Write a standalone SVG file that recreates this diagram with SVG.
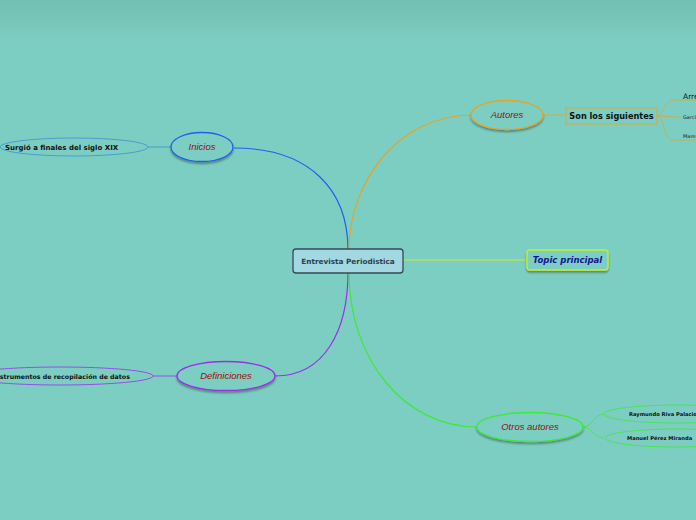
<svg xmlns="http://www.w3.org/2000/svg" width="696" height="520" viewBox="0 0 696 520">
<defs>
<linearGradient id="top" x1="0" y1="0" x2="0" y2="1">
<stop offset="0" stop-color="#73bfb3"/>
<stop offset="0.4" stop-color="#76c3b7"/>
<stop offset="1" stop-color="#7dcec2"/>
</linearGradient>
<filter id="sh" x="-20%" y="-30%" width="140%" height="170%">
<feDropShadow dx="0" dy="2" stdDeviation="1.2" flood-color="#000" flood-opacity="0.35"/>
</filter>
</defs>
<style>
text{font-family:"DejaVu Sans","Liberation Sans",sans-serif}
.main{font-size:9.5px;font-style:italic;fill:#9a0e0e;font-family:"Liberation Sans",Arial,sans-serif}
.sub{font-size:7px;font-weight:bold;fill:#111}
.tiny{font-size:5.2px;font-weight:bold;fill:#111}
.conn{fill:none}
</style>
<rect width="696" height="520" fill="#7dcec2"/>
<rect width="696" height="40" fill="url(#top)"/>

<g id="connectors">
<path class="conn" d="M348,250 C348,190 310,148 234,148" stroke="#1c62f0" stroke-width="1.2"/>
<path class="conn" d="M349,250 C349,180 400,115 472,115" stroke="#e8a322" stroke-width="1.2"/>
<path class="conn" d="M403,260 L527,260" stroke="#c8ee2a" stroke-width="1.2"/>
<path class="conn" d="M348,272 C348,330 325,376 275,376" stroke="#9c2ee8" stroke-width="1.2"/>
<path class="conn" d="M349,272 C349,360 405,427 477,427" stroke="#40e838" stroke-width="1.2"/>
<path class="conn" d="M171,147 L148,147" stroke="#3b8fd9" stroke-width="0.8"/>
<path class="conn" d="M177,376 L153,376" stroke="#9c2ee8" stroke-width="0.8"/>
<path class="conn" d="M543,115 L566,115" stroke="#e8a322" stroke-width="0.8"/>
<path class="conn" d="M657,116 C664,116 664,100 672,100 L696,100 M657,116 C664,116 666,117 681,117 M657,116 C664,116 664,140 672,140 L696,140" stroke="#d4a840" stroke-width="0.8"/>
<path class="conn" d="M583,427 C592,427 594,414 604,414 M583,427 C592,427 594,438 604,438" stroke="#40e838" stroke-width="0.8"/>
</g>

<g id="central">
<rect x="293" y="249" width="110" height="24" rx="3" fill="#a2d8e2" stroke="#36485a" stroke-width="1.3"/>
<text x="348" y="264" text-anchor="middle" font-size="7.3" font-weight="bold" fill="#2e3e50">Entrevista Periodistica</text>
</g>

<g id="inicios">
<ellipse cx="202" cy="147" rx="31" ry="14.5" fill="#7dcec2" stroke="#1c62f0" stroke-width="1.3" filter="url(#sh)"/>
<text class="main" x="202" y="150" text-anchor="middle">Inicios</text>
</g>
<g id="surgio">
<ellipse cx="74" cy="147" rx="74" ry="9" fill="none" stroke="#3b8fd9" stroke-width="0.8"/>
<text class="sub" x="5" y="150">Surgió a finales del siglo XIX</text>
</g>

<g id="definiciones">
<ellipse cx="226" cy="376" rx="49" ry="14.5" fill="#7dcec2" stroke="#9c2ee8" stroke-width="1.3" filter="url(#sh)"/>
<text class="main" x="226" y="379" text-anchor="middle">Definiciones</text>
</g>
<g id="instrumentos">
<ellipse cx="60" cy="376" rx="93" ry="9" fill="none" stroke="#9c2ee8" stroke-width="0.8"/>
<text x="-7" y="378.5" font-size="6.3" font-weight="bold" fill="#111">Instrumentos de recopilación de datos</text>
</g>

<g id="autores">
<ellipse cx="507" cy="115" rx="36" ry="14.5" fill="#7dcec2" stroke="#e8a322" stroke-width="1.3" filter="url(#sh)"/>
<text class="main" x="507" y="118" text-anchor="middle">Autores</text>
</g>
<g id="siguientes">
<rect x="566" y="108" width="91" height="16" fill="none" stroke="#d4a840" stroke-width="1"/>
<text x="611.5" y="119" text-anchor="middle" font-size="8.2" font-weight="bold" fill="#111">Son los siguientes</text>
</g>
<g id="arre">
<text x="683" y="99" font-size="7.5" fill="#111">Arreola</text>
</g>
<g id="garc">
<text x="683" y="119" font-size="5" fill="#222">García</text>
</g>
<g id="mare">
<text x="683" y="138" font-size="5" fill="#222">Marentes</text>
</g>

<g id="topic">
<rect x="527" y="250" width="81" height="20" rx="3" fill="#7dcec2" stroke="#c8ee2a" stroke-width="1.3" filter="url(#sh)"/>
<text x="567.5" y="263" text-anchor="middle" font-size="8.5" font-weight="bold" font-style="italic" fill="#151590">Topic principal</text>
</g>

<g id="otros">
<ellipse cx="530" cy="427" rx="53" ry="14.5" fill="#7dcec2" stroke="#40e838" stroke-width="1.3" filter="url(#sh)"/>
<text class="main" x="530" y="430" text-anchor="middle">Otros autores</text>
</g>
<g id="raymundo">
<ellipse cx="676" cy="414" rx="72" ry="9" fill="none" stroke="#40e838" stroke-width="0.8"/>
<text class="tiny" x="629" y="416">Raymundo Riva Palacio</text>
</g>
<g id="manuel">
<ellipse cx="676" cy="438" rx="71" ry="9" fill="none" stroke="#40e838" stroke-width="0.8"/>
<text class="tiny" x="627" y="440">Manuel Pérez Miranda</text>
</g>
</svg>
